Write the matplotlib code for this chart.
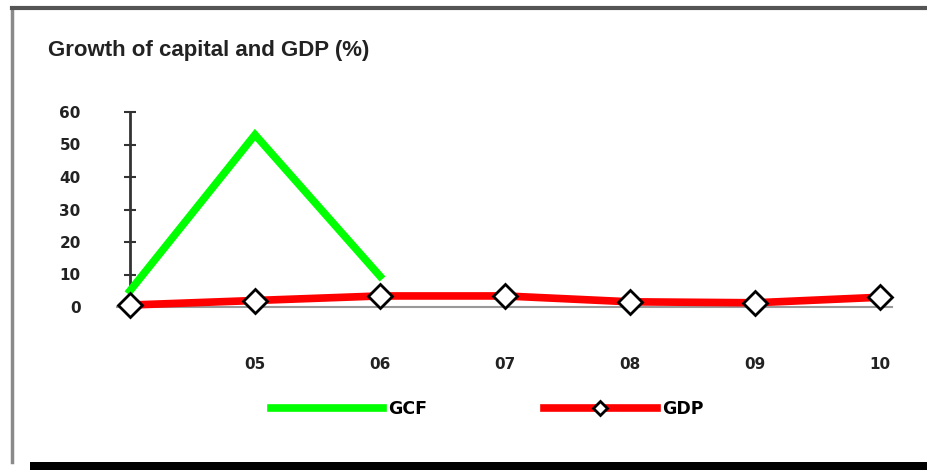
import matplotlib
matplotlib.use("Agg")
import matplotlib.pyplot as plt
from matplotlib.patches import Rectangle
from matplotlib.lines import Line2D

# data
years = ["04", "05", "06", "07", "08", "09", "10"]
tick_labels = ["", "05", "06", "07", "08", "09", "10"]
gcf = [5, 53, 9.5]
gdp = [0.6, 2.0, 3.4, 3.4, 1.6, 1.3, 3.0]
yticks = [0, 10, 20, 30, 40, 50, 60]

plt.rcParams['font.family'] = ['DejaVu Sans']

W, H = 928, 470
fig = plt.figure(figsize=(W / 100, H / 100), dpi=100)

# frame around the chart, like the scanned box
fig.add_artist(Line2D([12 / W, 12 / W], [1 - 8 / H, 1 - 462 / H], color='#8a8a8a', lw=2.5))
fig.add_artist(Line2D([12 / W, 1.0], [1 - 8 / H, 1 - 8 / H], color='#555555', lw=3))
fig.add_artist(Rectangle((30 / W, 0), 1 - 30 / W, 8 / H, transform=fig.transFigure,
                         color='black', lw=0))

# axes placed so that x=0 sits at 130px and x=6 at 880px
left, right = 130 / W, 880 / W
bottom, top = 1 - 307 / H, 1 - 112 / H
ax = fig.add_axes([left, bottom, right - left, top - bottom])
x = list(range(len(years)))

ax.plot(x[:len(gcf)], gcf, color='#00ff00', lw=5.5, solid_joinstyle='miter',
        clip_on=False, zorder=3, label='GCF')
ax.plot(x, gdp, color='#ff0000', lw=5.5, marker='D', markersize=12,
        markerfacecolor='white', markeredgecolor='black', markeredgewidth=2,
        clip_on=False, zorder=4, label='GDP')

ax.set_xlim(0, 6)
ax.set_ylim(0, 60)
for s in ['top', 'right']:
    ax.spines[s].set_visible(False)
ax.spines['left'].set_color('#333333')
ax.spines['left'].set_linewidth(2)
ax.spines['bottom'].set_color('#999999')
ax.spines['bottom'].set_linewidth(1.5)
ax.spines['bottom'].set_bounds(-0.1, 6.1)

ax.set_yticks(yticks)
ax.set_yticklabels([str(v) for v in yticks], fontsize=11, fontweight='bold', color='#222222')
ax.tick_params(axis='y', direction='inout', length=9, width=1.5, color='#333333', pad=31)
ax.set_xticks(x)
ax.set_xticklabels(tick_labels, fontsize=11, fontweight='bold', color='#222222')
ax.tick_params(axis='x', length=0, pad=36)

fig.text(48 / W, 1 - 56 / H, "Growth of capital and GDP (%)", fontsize=16,
         fontweight='bold', color='#222222', va='baseline', family='Liberation Sans')

fig.legend(loc='center', bbox_to_anchor=(487 / W, 1 - 409 / H), ncol=2, frameon=False,
           handlelength=6.5, handletextpad=0.3, columnspacing=6.7, markerscale=0.6,
           prop={'weight': 'bold', 'size': 12.5})

fig.savefig("out.png", dpi=100)
